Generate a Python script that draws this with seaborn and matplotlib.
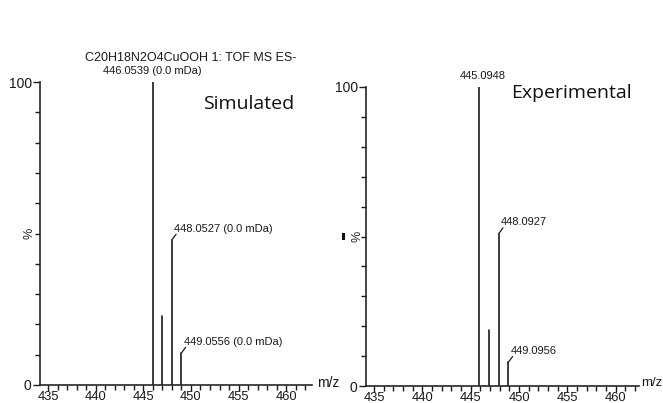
import matplotlib
matplotlib.use("Agg")
import matplotlib.pyplot as plt
import matplotlib.transforms as mtransforms
import seaborn as sns
import pandas as pd
from matplotlib.ticker import MultipleLocator, FixedLocator
from matplotlib.patches import Rectangle

# ---- data ----
sim_mz = [446.0, 447.0, 448.0, 449.0]
sim_int = [100.0, 22.8, 47.9, 10.6]
sim_labels = ["446.0539 (0.0 mDa)", None, "448.0527 (0.0 mDa)", "449.0556 (0.0 mDa)"]

exp_mz = [445.9, 446.9, 447.9, 448.9]
exp_int = [100.0, 18.7, 51.0, 8.0]
exp_labels = ["445.0948", None, "448.0927", "449.0956"]

x_ticks = [435, 440, 445, 450, 455, 460]
title_left = "C20H18N2O4CuOOH 1: TOF MS ES-"

sns.set_style("ticks")
plt.rcParams["font.family"] = ["Liberation Sans", "DejaVu Sans"]

fig = plt.figure(figsize=(6.63, 4.03), dpi=100)
W, H = 663, 403

def ax_at(x0, x1, y_top, y_bot):
    return fig.add_axes([x0 / W, 1 - y_bot / H, (x1 - x0) / W, (y_bot - y_top) / H])

axL = ax_at(40, 312, 82, 385)
axR = ax_at(366, 639, 87, 386)

def stems(ax, mz, inten):
    rows = []
    for i, (m, v) in enumerate(zip(mz, inten)):
        rows.append({"mz": m, "int": 0.0, "pk": i})
        rows.append({"mz": m, "int": v, "pk": i})
    df = pd.DataFrame(rows)
    sns.lineplot(data=df, x="mz", y="int", units="pk", estimator=None,
                 color="#1a1a1a", lw=1.2, ax=ax, sort=False)

def style(ax, xlim, ylab_x):
    ax.set_xlim(*xlim)
    ax.set_ylim(0, 100)
    sns.despine(ax=ax)
    ax.spines["left"].set_linewidth(1.2)
    ax.spines["bottom"].set_linewidth(1.2)
    ax.xaxis.set_major_locator(FixedLocator(x_ticks))
    ax.xaxis.set_minor_locator(MultipleLocator(1))
    ax.yaxis.set_major_locator(FixedLocator([0, 100]))
    ax.yaxis.set_minor_locator(MultipleLocator(10))
    ax.tick_params(axis="x", which="major", length=4, width=1.0, labelsize=9.3,
                   pad=0, color="#1a1a1a", labelcolor="#1a1a1a")
    ax.tick_params(axis="y", which="major", length=5, width=1.0, labelsize=10,
                   pad=1, color="#1a1a1a", labelcolor="#1a1a1a")
    ax.tick_params(axis="both", which="minor", length=3.5, width=1.0, color="#1a1a1a")
    ax.set_yticklabels(["0", "100"])
    ax.set_xlabel("")
    ax.set_ylabel("%", fontsize=9, labelpad=2)
    ax.yaxis.set_label_coords(ylab_x, 0.5)
    ax.patch.set_alpha(0)

def annotate(ax, mz, inten, labels, main_offset=0.0):
    for i, (m, v, lab) in enumerate(zip(mz, inten, labels)):
        if lab is None:
            continue
        if i == 0:
            ax.text(m + main_offset, v + 2, lab, ha="center", va="bottom", fontsize=8,
                    color="#1a1a1a", clip_on=False)
        else:
            # short slanted leader line from the peak top, then the label
            line_tr = mtransforms.offset_copy(ax.transData, fig=fig, x=0, y=0, units="points")
            end_tr = mtransforms.offset_copy(ax.transData, fig=fig, x=3.0, y=4.0, units="points")
            p0 = line_tr.transform((m, v))
            p1 = end_tr.transform((m, v))
            ax.plot([p0[0], p1[0]], [p0[1], p1[1]], transform=None, color="#1a1a1a",
                    lw=0.9, clip_on=False)
            txt_tr = mtransforms.offset_copy(ax.transData, fig=fig, x=1.5, y=6.0, units="points")
            ax.text(m, v, lab, transform=txt_tr, ha="left", va="baseline", fontsize=8,
                    color="#1a1a1a", clip_on=False)

stems(axL, sim_mz, sim_int)
style(axL, (434.16, 462.7), -0.016)
annotate(axL, sim_mz, sim_int, sim_labels, main_offset=-0.1)

stems(axR, exp_mz, exp_int)
style(axR, (434.17, 462.4), -0.008)
annotate(axR, exp_mz, exp_int, exp_labels, main_offset=0.35)

fig.text(191 / W, 1 - 58 / H, title_left, ha="center", va="center", fontsize=9,
         color="#1a1a1a")
fig.text(249 / W, 1 - 104 / H, "Simulated", ha="center", va="center", fontsize=14,
         family=["Open Sans", "DejaVu Sans"], color="#111111")
fig.text(571 / W, 1 - 93 / H, "Experimental", ha="center", va="center", fontsize=14,
         family=["Open Sans", "DejaVu Sans"], color="#111111")
fig.text(317 / W, 1 - 383 / H, "m/z", ha="left", va="center", fontsize=10, color="#1a1a1a")
fig.text(641 / W, 1 - 383 / H, "m/z", ha="left", va="center", fontsize=9.5, color="#1a1a1a")

# small black mark left of the right panel's % label
fig.add_artist(Rectangle((342 / W, 1 - 240 / H), 3 / W, 7 / H, transform=fig.transFigure,
                         color="#111111", lw=0))

fig.savefig("out.png", dpi=100)
